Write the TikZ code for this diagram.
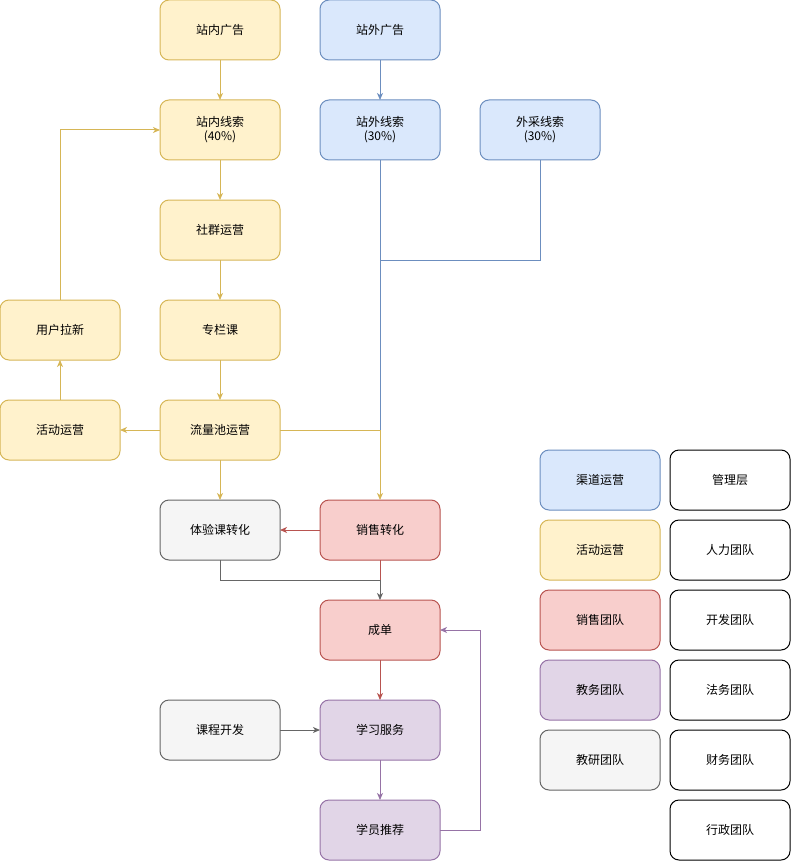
\documentclass[tikz,border=0pt]{standalone}
\usepackage{fontspec}
\setmainfont{Noto Sans CJK SC}
\usetikzlibrary{arrows.meta}
\definecolor{yfill}{HTML}{FFF2CC}\definecolor{ydraw}{HTML}{D6B656}
\definecolor{bfill}{HTML}{DAE8FC}\definecolor{bdraw}{HTML}{6C8EBF}
\definecolor{rfill}{HTML}{F8CECC}\definecolor{rdraw}{HTML}{B85450}
\definecolor{pfill}{HTML}{E1D5E7}\definecolor{pdraw}{HTML}{9673A6}
\definecolor{gfill}{HTML}{F5F5F5}\definecolor{gdraw}{HTML}{666666}
\begin{document}
\begin{tikzpicture}[x=1pt,y=-1pt,
  box/.style={rectangle,rounded corners=9pt,minimum width=120pt,minimum height=60pt,
    line width=1pt,outer sep=0pt,inner sep=2pt,align=center,font=\fontsize{12pt}{14pt}\selectfont},
  ybox/.style={box,draw=ydraw,fill=yfill},
  bbox/.style={box,draw=bdraw,fill=bfill},
  rbox/.style={box,draw=rdraw,fill=rfill},
  pbox/.style={box,draw=pdraw,fill=pfill},
  gbox/.style={box,draw=gdraw,fill=gfill},
  wbox/.style={box,draw=black,fill=white},
  con/.style={line width=1pt},
  arr/.style={con,-{Stealth[length=7pt,width=6pt,inset=2pt]}}]
\useasboundingbox (0,0) rectangle (791,861);
% nodes
\node[ybox] (ad1) at (220,30) {站内广告};
\node[bbox] (ad2) at (380,30) {站外广告};
\node[ybox] (lead1) at (220,130) {站内线索\\(40\%)};
\node[bbox] (lead2) at (380,130) {站外线索\\(30\%)};
\node[bbox] (lead3) at (540,130) {外采线索\\(30\%)};
\node[ybox] (comm) at (220,230) {社群运营};
\node[ybox] (usr) at (60,330) {用户拉新};
\node[ybox] (col) at (220,330) {专栏课};
\node[ybox] (act) at (60,430) {活动运营};
\node[ybox] (pool) at (220,430) {流量池运营};
\node[gbox] (trial) at (220,530) {体验课转化};
\node[rbox] (sale) at (380,530) {销售转化};
\node[rbox] (deal) at (380,630) {成单};
\node[gbox] (dev) at (220,730) {课程开发};
\node[pbox] (study) at (380,730) {学习服务};
\node[pbox] (ref) at (380,830) {学员推荐};
% legend
\node[bbox] (l1) at (600,480) {渠道运营};
\node[ybox] (l2) at (600,550) {活动运营};
\node[rbox] (l3) at (600,620) {销售团队};
\node[pbox] (l4) at (600,690) {教务团队};
\node[gbox] (l5) at (600,760) {教研团队};
\node[wbox] (m1) at (730,480) {管理层};
\node[wbox] (m2) at (730,550) {人力团队};
\node[wbox] (m3) at (730,620) {开发团队};
\node[wbox] (m4) at (730,690) {法务团队};
\node[wbox] (m5) at (730,760) {财务团队};
\node[wbox] (m6) at (730,830) {行政团队};
% coordinates
\coordinate (join) at (380,430);
\coordinate (mid) at (380,260);
\coordinate (g) at (380,580);
\coordinate (r) at (480,830);
% blue
\draw[arr,bdraw] (ad2) -- (lead2);
\draw[con,bdraw] (lead2.south) -- (join);
\draw[con,bdraw] (lead3.south) |- (mid);
% yellow
\draw[arr,ydraw] (ad1) -- (lead1);
\draw[arr,ydraw] (lead1) -- (comm);
\draw[arr,ydraw] (comm) -- (col);
\draw[arr,ydraw] (col) -- (pool);
\draw[arr,ydraw] (pool) -- (act);
\draw[arr,ydraw] (act) -- (usr);
\draw[arr,ydraw] (usr.north) |- (lead1.west);
\draw[arr,ydraw] (pool) -- (trial);
\draw[arr,ydraw] (pool.east) -| (sale.north);
% red
\draw[arr,rdraw] (sale) -- (trial);
\draw[con,rdraw] (sale.south) -- (g);
\draw[arr,rdraw] (deal) -- (study);
% gray
\draw[arr,gdraw] (trial.south) |- (g) -- (deal.north);
\draw[arr,gdraw] (dev) -- (study);
% purple
\draw[arr,pdraw] (study) -- (ref);
\draw[arr,pdraw] (ref.east) -- (r) |- (deal.east);
\end{tikzpicture}
\end{document}
